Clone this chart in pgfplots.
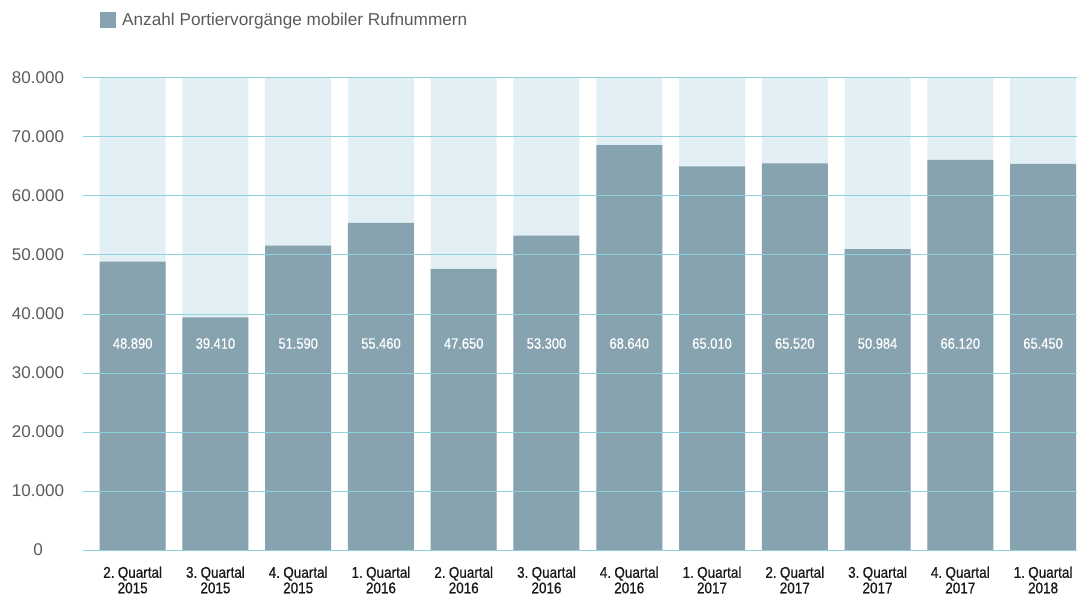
\documentclass[border=0pt]{standalone}
\usepackage{pgfplots}
\pgfplotsset{compat=1.18}
\usepackage{fontspec}
\setmainfont{Liberation Sans}
\newfontfamily\cond[FakeStretch=0.87, FakeBold=0.7, WordSpace=0.55]{Liberation Sans}
\newfontfamily\condv[FakeStretch=0.86, FakeBold=0.3]{Liberation Sans}
\definecolor{barcol}{HTML}{87A3AF}
\definecolor{bgcol}{HTML}{E2F0F5}
\definecolor{gridcol}{HTML}{8ED2DC}
\definecolor{txtgray}{HTML}{5A5A5A}
\begin{document}
\begin{tikzpicture}
\useasboundingbox (-83pt,-47pt) rectangle (1000pt,550pt);
\begin{axis}[
  scale only axis, width=994pt, height=472pt,
  xmin=-0.6, xmax=11.41, ymin=0, ymax=80000,
  scaled y ticks=false,
  axis on top,
  axis line style={draw=none},
  major tick style={draw=none},
  ymajorgrids, grid style={gridcol, line width=1pt},
  xtick={0,...,11},
  xticklabels={{2. Quartal\\2015},{3. Quartal\\2015},{4. Quartal\\2015},{1. Quartal\\2016},{2. Quartal\\2016},{3. Quartal\\2016},{4. Quartal\\2016},{1. Quartal\\2017},{2. Quartal\\2017},{3. Quartal\\2017},{4. Quartal\\2017},{1. Quartal\\2018}},
  xticklabel style={align=center, font=\cond\fontsize{15.5}{15.5}\selectfont, text=black!90, anchor=north, yshift=-13pt},
  ytick={0,10000,20000,30000,40000,50000,60000,70000,80000},
  yticklabels={0,10.000,20.000,30.000,40.000,50.000,60.000,70.000,80.000},
  yticklabel style={font=\fontsize{17}{17}\selectfont, text=txtgray, anchor=center, xshift=-45pt},
  legend style={at={(axis description cs:0.0171,1.142)}, anchor=north west, draw=none, fill=none, inner sep=0pt, font=\fontsize{17.2}{17.2}\selectfont, text=txtgray},
  legend cell align=left,
  legend image code/.code={\fill[barcol] (0pt,-8pt) rectangle (16pt,8pt); \path (20pt,0pt);},
]
\addplot[ybar, bar width=66pt, bar shift=0pt, fill=bgcol, draw=none, forget plot] coordinates {(0,80000) (1,80000) (2,80000) (3,80000) (4,80000) (5,80000) (6,80000) (7,80000) (8,80000) (9,80000) (10,80000) (11,80000)};
\addplot[ybar, bar width=66pt, bar shift=0pt, fill=barcol, draw=none] coordinates {(0,48890) (1,39410) (2,51590) (3,55460) (4,47650) (5,53300) (6,68640) (7,65010) (8,65520) (9,50984) (10,66120) (11,65450)};
\addlegendentry{Anzahl Portiervorgänge mobiler Rufnummern}
\addplot[draw=none, mark=none, forget plot, nodes near coords, point meta=explicit symbolic, nodes near coords style={anchor=center, text=white, font=\condv\fontsize{15}{15}\selectfont}] coordinates {(0,35000)[48.890] (1,35000)[39.410] (2,35000)[51.590] (3,35000)[55.460] (4,35000)[47.650] (5,35000)[53.300] (6,35000)[68.640] (7,35000)[65.010] (8,35000)[65.520] (9,35000)[50.984] (10,35000)[66.120] (11,35000)[65.450]};
\end{axis}
\end{tikzpicture}
\end{document}
